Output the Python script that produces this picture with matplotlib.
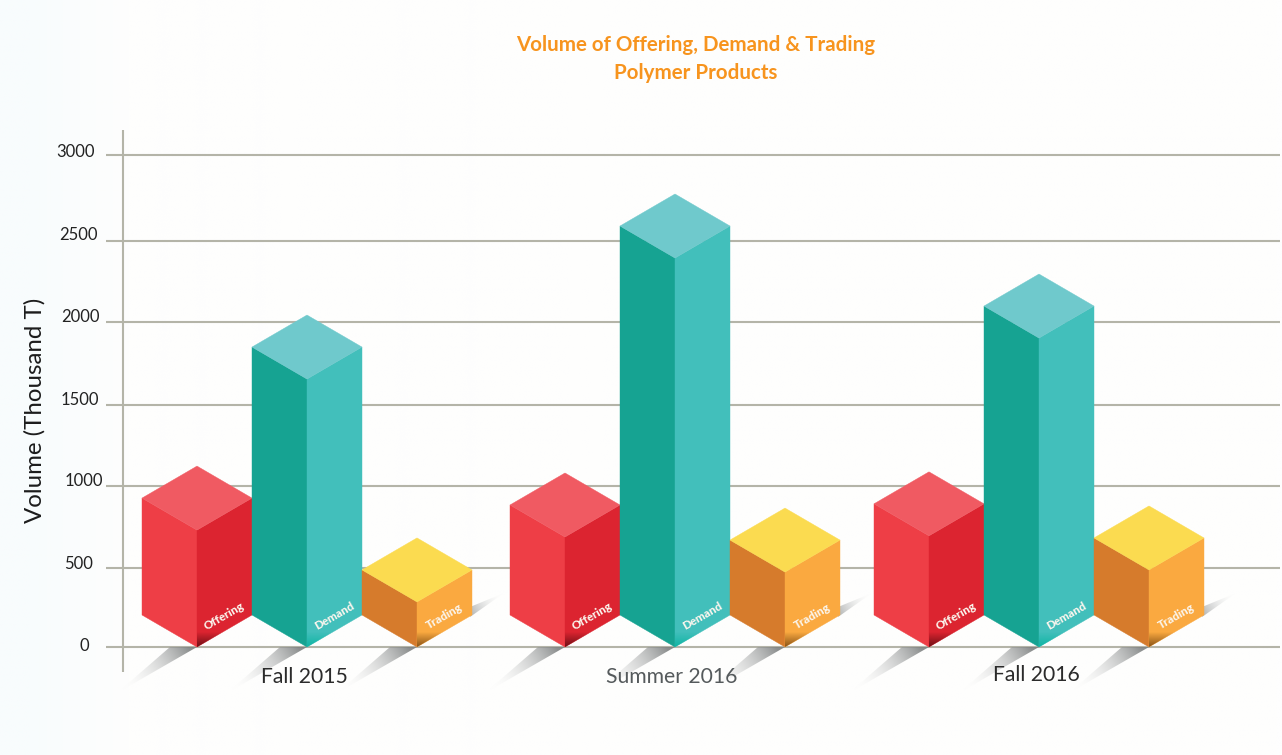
import numpy as np
import matplotlib
matplotlib.use("Agg")
import matplotlib.pyplot as plt
from matplotlib.colors import to_rgb
from matplotlib.patches import Polygon

# ==== data ====
seasons = ["Fall 2015", "Summer 2016", "Fall 2016"]
products = ["Offering", "Demand", "Trading"]
offering = [908, 866, 873]
demand = [1829, 2567, 2079]
trading = [470, 652, 665]
y_tick_labels = ["0", "500", "1000", "1500", "2000", "2500", "3000"]
grid_levels = [0, 482, 982, 1476, 1982, 2476, 3000]

# ==== layout, in pixels of the 1282x755 picture ====
W, H = 1282, 755
PX = 0.164  # pixels per thousand T
Y0 = 647  # pixel row of volume 0
HALF_W = 55
DEPTH = 32
group_x = [197, 565, 929]
BAR_STEP = 110
tick_label_x = [84, 79, 84, 80, 80, 78, 76]
tick_label_row = [646, 564, 481, 400, 317, 235, 152]
season_label_x = [304, 672, 1036]
season_label_y = [677, 677, 675]
season_colors = ["#2b2b2b", "#555a5c", "#2b2b2b"]

left_colors = ["#ee3e46", "#16a392", "#d67b2c"]
right_colors = ["#dc2430", "#42bfbb", "#faa940"]
top_colors = ["#f05a62", "#6fc9cc", "#fbdb50"]
foot_colors = ["#6e1016", "#0fb5a4", "#8a5418"]

FONT = "Lato"
plt.rcParams["font.family"] = [FONT, "DejaVu Sans"]


def row(px):
    # pixel row -> volume
    return (Y0 - px) / PX


def gradient_poly(ax, pts, p0, p1, c0, c1, a0=1.0, a1=1.0, z=2):
    # fill polygon with a linear gradient running from p0 to p1 (data coords)
    pts = np.array(pts)
    xs = np.linspace(pts[:, 0].min(), pts[:, 0].max(), 120)
    ys = np.linspace(pts[:, 1].min(), pts[:, 1].max(), 120)
    gx, gy = np.meshgrid(xs, ys)
    # project in pixel space so that x and y weigh the same
    d = np.array([p1[0] - p0[0], (p1[1] - p0[1]) * PX])
    t = ((gx - p0[0]) * d[0] + (gy - p0[1]) * PX * d[1]) / (d @ d)
    t = np.clip(t, 0, 1)[..., None]
    rgba = np.zeros(gx.shape + (4,))
    rgba[..., :3] = np.array(to_rgb(c0)) * (1 - t) + np.array(to_rgb(c1)) * t
    rgba[..., 3] = (a0 * (1 - t) + a1 * t)[..., 0]
    im = ax.imshow(rgba, extent=[xs[0], xs[-1], ys[0], ys[-1]], origin="lower",
                   aspect="auto", zorder=z, interpolation="bilinear")
    clip = Polygon(pts, closed=True, transform=ax.transData, fc="none", ec="none")
    ax.add_patch(clip)
    im.set_clip_path(clip)


def draw_bar(ax, xc, value, i):
    d = DEPTH / PX
    top = value - d  # top of front edge; the left corner sits on the value
    low = 0
    lc = left_colors[i]
    rc = right_colors[i]
    ax.add_patch(Polygon([(xc - HALF_W, low + d), (xc, low), (xc, top),
                          (xc - HALF_W, top + d)], fc=lc, ec=lc, lw=0.3, zorder=3))
    ax.add_patch(Polygon([(xc, low), (xc + HALF_W, low + d), (xc + HALF_W, top + d),
                          (xc, top)], fc=rc, ec=rc, lw=0.3, zorder=3))
    ax.add_patch(Polygon([(xc - HALF_W, top + d), (xc, top), (xc + HALF_W, top + d),
                          (xc, top + 2 * d)], fc=top_colors[i], ec=top_colors[i],
                         lw=0.3, zorder=3))
    # dark foot along the bottom of the right face
    foot = 15 / PX
    gradient_poly(ax, [(xc, low), (xc + HALF_W, low + d), (xc + HALF_W, low + d + foot),
                       (xc, low + foot)],
                  (xc, low), (xc, low + foot), foot_colors[i], foot_colors[i],
                  a0=1.0, a1=0.0, z=4)


def draw_shadow(ax, xc):
    # streak running down-left from the front corner
    gradient_poly(ax, [(xc, row(647)), (xc - 27, row(647)), (xc - 80, row(693))],
                  (xc - 8, row(647)), (xc - 76, row(690)), "#7f8282", "#ffffff",
                  a0=0.9, a1=0.0, z=1.5)


fig = plt.figure(figsize=(W / 100, H / 100), dpi=100)
ax = fig.add_axes([0, 0, 1, 1])

# faint blue tint on the left edge
gradient_poly(ax, [(0, row(0)), (130, row(0)), (130, row(H)), (0, row(H))],
              (30, row(0)), (130, row(0)), "#f8fcfd", "#fefefd", z=0)
gradient_poly(ax, [(130, row(0)), (W, row(0)), (W, row(H)), (130, row(H))],
              (130, row(0)), (W, row(0)), "#fefefd", "#fefefe", z=0)

# grid and axis line
for lev in grid_levels:
    ax.plot([106, W - 2], [lev, lev], color="#b4b4a8", lw=1.5, zorder=1,
            solid_capstyle="butt")
ax.plot([123, 123], [row(672), row(130)], color="#b4b4a8", lw=1.5, zorder=1,
        solid_capstyle="butt")

for lab, r, lx in zip(y_tick_labels, tick_label_row, tick_label_x):
    ax.text(lx, row(r), lab, ha="center", va="center", fontsize=12, color="#222222",
            zorder=6)

series = [offering, demand, trading]
for g, xg in enumerate(group_x):
    # streak behind the gap after the group
    xr = xg + 2 * BAR_STEP + HALF_W
    gradient_poly(ax, [(xr - 2, row(617)), (xr - 2, row(607)), (xr + 32, row(593))],
                  (xr, row(612)), (xr + 32, row(593)), "#a0a3a3", "#ffffff",
                  a0=0.7, a1=0.0, z=1.5)
    for i in range(len(products)):
        draw_shadow(ax, xg + i * BAR_STEP)
    for i, name in enumerate(products):
        xc = xg + i * BAR_STEP
        draw_bar(ax, xc, series[i][g], i)
        ax.text(xc + 27, row(616), name, rotation=30, rotation_mode="anchor",
                ha="center", va="center", fontsize=8.4, fontweight=900,
                color="#fbf6ee", zorder=5)
    ax.text(season_label_x[g], row(season_label_y[g]), seasons[g], ha="center",
            va="center", fontsize=15.2, color=season_colors[g], zorder=6)

ax.text(35, row(410), "Volume (Thousand T)", rotation=90, ha="center", va="center",
        fontsize=17.3, color="#1c1c1c")
ax.text(696, row(45), "Volume of Offering, Demand & Trading", ha="center", va="center",
        fontsize=14.8, fontweight="bold", color="#f7941e")
ax.text(696, row(73), "Polymer Products", ha="center", va="center",
        fontsize=14.8, fontweight="bold", color="#f7941e")

ax.set_xlim(0, W)
ax.set_ylim(row(H), row(0))
ax.axis("off")

fig.savefig("out.png", dpi=100)
